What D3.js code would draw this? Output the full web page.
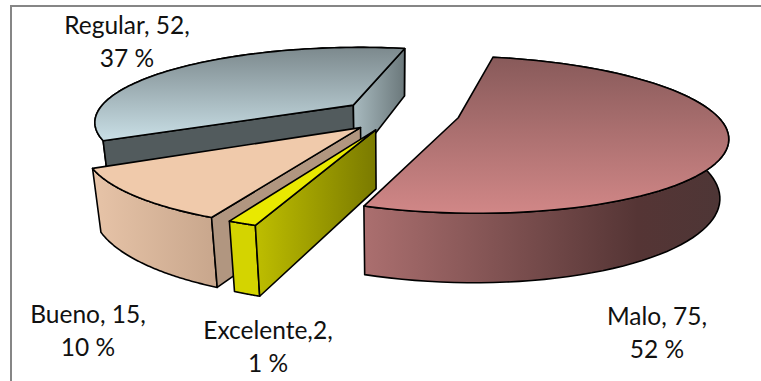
<!DOCTYPE html>
<html>
<head>
<meta charset="utf-8">
<script src="https://cdnjs.cloudflare.com/ajax/libs/d3/7.8.5/d3.min.js"></script>
<style>
html,body{margin:0;padding:0;background:#fff;}
svg{display:block;}
text{font-family:Lato,"Open Sans",sans-serif;font-size:24.5px;fill:#111;text-anchor:middle;}
</style>
</head>
<body>
<svg id="chart" width="761" height="381"></svg>
<script>
// Rating survey results
const categories = ["Malo", "Excelente", "Bueno", "Regular"];
const counts = [75, 2, 15, 52];
const percents = [52, 1, 10, 37];
const separators = [", ", ",", ", ", ", "];

const width = 761, height = 381;
const svg = d3.select("#chart");

// Perspective model of the tilted pie
const cam = {cx: 390, cy: 113, rx: 257, ry: 73, depth: 58, p: 0.212, q: 0.025};
function project(x, y, z) {
  const w = 1 - cam.p * y + cam.q * z;
  return [cam.cx + cam.rx * x / w, cam.cy + (cam.ry * y + cam.depth * z) / w];
}

const firstAngle = 12.5 * Math.PI / 180;
const pieGen = d3.pie().sort(null).startAngle(firstAngle).endAngle(firstAngle + 2 * Math.PI);
const arcs = pieGen(counts);

// How far each slice is pulled out of the pie, in radius units
const pullX = [0.262, -0.053, -0.110, -0.146];
const pullY = [0.064, 0.221, 0.192, -0.110];

const faceStyles = [
  {top: ["#885a5a", "#d18787"], side: [[0, "#ab6f6f"], [0.75, "#553535"], [1, "#4d3636"]], start: "#885a5a", end: "#885a5a"},
  {top: ["#e9e900", "#e9e900"], side: [[0, "#d4d400"], [1, "#d4d400"]], start: [[0, "#bebe00"], [1, "#7a7a00"]], end: "#b0b000"},
  {top: ["#f0caab", "#f0caab"], side: [[0, "#e7c4a8"], [1, "#c8a68c"]], start: "#b19680", end: "#b19680"},
  {top: ["#7c898d", "#c9dfe6"], side: [[0, "#c8dde3"], [1, "#c8dde3"]], start: "#525b5d", end: [[0, "#a8babf"], [1, "#6b787b"]]}
];
const drawOrder = [3, 0, 2, 1];

const defs = svg.append("defs");
function horizontal(id, stops) {
  const g = defs.append("linearGradient").attr("id", id);
  stops.forEach(s => g.append("stop").attr("offset", s[0]).attr("stop-color", s[1]));
  return `url(#${id})`;
}
function vertical(id, a, b) {
  const g = defs.append("linearGradient").attr("id", id).attr("x1", 0).attr("y1", 0).attr("x2", 0).attr("y2", 1);
  g.append("stop").attr("offset", 0).attr("stop-color", a);
  g.append("stop").attr("offset", 1).attr("stop-color", b);
  return `url(#${id})`;
}
const paint = (id, v) => typeof v === "string" ? v : horizontal(id, v);
const line = d3.line();
const outline = pts => line(pts) + "Z";

// Frame around the plot
svg.append("path")
  .attr("d", `M11,${height}V6H${width}`)
  .attr("fill", "none").attr("stroke", "#868686").attr("stroke-width", 2);

const sliceLayer = svg.append("g").attr("stroke", "#000").attr("stroke-width", 1.6).attr("stroke-linejoin", "round");

drawOrder.forEach(i => {
  const a = arcs[i], st = faceStyles[i];
  const ox = pullX[i], oy = pullY[i];
  const steps = d3.range(0, 81).map(d3.scaleLinear().domain([0, 80]).range([a.startAngle, a.endAngle]));
  const rim = z => steps.map(t => project(ox + Math.sin(t), oy - Math.cos(t), z));
  const topRim = rim(0), botRim = rim(1);
  const apexTop = project(ox, oy, 0), apexBot = project(ox, oy, 1);
  const g = sliceLayer.append("g");

  // Curved outer wall
  g.append("path").attr("d", outline(topRim.concat(botRim.slice().reverse())))
    .attr("fill", horizontal(`side${i}`, st.side));

  // Flat cut walls, kept only when they turn towards the viewer
  const startWall = [apexTop, topRim[0], botRim[0], apexBot];
  const endWall = [apexTop, topRim[80], botRim[80], apexBot];
  if (d3.polygonArea(startWall) > 0)
    g.append("path").attr("d", outline(startWall)).attr("fill", paint(`start${i}`, st.start));
  if (d3.polygonArea(endWall) < 0)
    g.append("path").attr("d", outline(endWall)).attr("fill", paint(`end${i}`, st.end));

  // Top face
  g.append("path").attr("d", outline([apexTop].concat(topRim)))
    .attr("fill", vertical(`top${i}`, st.top[0], st.top[1]));
});

// Data labels
const labelPos = [[657, 325], [268, 339], [88, 323], [127, 34]];
const lineGap = 33;
categories.forEach((c, i) => {
  const t = svg.append("text").attr("x", labelPos[i][0]).attr("y", labelPos[i][1]);
  t.append("tspan").attr("x", labelPos[i][0]).text(`${c}${separators[i]}${counts[i]},`);
  t.append("tspan").attr("x", labelPos[i][0]).attr("dy", lineGap).text(`${percents[i]} %`);
});
</script>
</body>
</html>
